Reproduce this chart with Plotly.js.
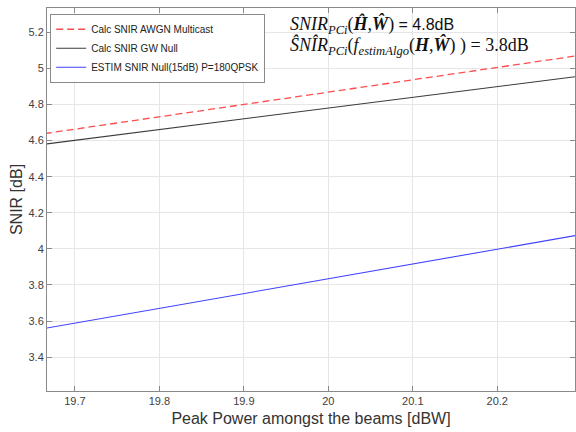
<!DOCTYPE html>
<html>
<head>
<meta charset="utf-8">
<script src="https://cdn.plot.ly/plotly-3.0.1.min.js"></script>
<style>html,body{margin:0;padding:0;background:#fff;}#chart{width:576px;height:432px;}</style>
</head>
<body>
<div id="chart"></div>
<script>
const peakPower = [19.6, 19.7, 19.8, 19.9, 20.0, 20.1, 20.2, 20.3];
const snirAwgnMulticast = [4.595, 4.664, 4.732, 4.800, 4.869, 4.937, 5.006, 5.074];
const snirGwNull = [4.542, 4.602, 4.661, 4.721, 4.780, 4.840, 4.900, 4.959];
const snirEstimNull = [3.506, 3.588, 3.670, 3.752, 3.834, 3.916, 3.998, 4.080];
const seriesNames = ['Calc SNIR AWGN Multicast', 'Calc SNIR GW Null', 'ESTIM SNIR Null(15dB) P=180QPSK'];
const xTicks = [19.7, 19.8, 19.9, 20.0, 20.1, 20.2];
const yTicks = [3.4, 3.6, 3.8, 4.0, 4.2, 4.4, 4.6, 4.8, 5.0, 5.2];

const traces = [
  {x: peakPower, y: snirAwgnMulticast, name: seriesNames[0], mode: 'lines',
   line: {color: '#ff4d4d', width: 1.3, dash: '7px,4px'}},
  {x: peakPower, y: snirGwNull, name: seriesNames[1], mode: 'lines',
   line: {color: '#3a3a3a', width: 1.1}},
  {x: peakPower, y: snirEstimNull, name: seriesNames[2], mode: 'lines',
   line: {color: '#4040ff', width: 1.1}}
];

const axisCommon = {
  showline: true, linecolor: '#8a8a8a', linewidth: 1, mirror: 'ticks',
  ticks: 'inside', ticklen: 5, tickcolor: '#8a8a8a',
  showgrid: true, gridcolor: '#e6e6e6', gridwidth: 1, zeroline: false,
  tickfont: {family: 'Liberation Sans, Arial, sans-serif', size: 11, color: '#404040'}
};

const layout = {
  width: 576, height: 432,
  margin: {l: 47, r: 1, t: 8, b: 41},
  paper_bgcolor: '#ffffff', plot_bgcolor: '#ffffff',
  showlegend: true,
  legend: {x: 0.006, y: 0.985, xanchor: 'left', yanchor: 'top',
    bgcolor: '#ffffff', bordercolor: '#8a8a8a', borderwidth: 1,
    font: {family: 'Liberation Sans, Arial, sans-serif', size: 10, color: '#222'},
    tracegroupgap: 0, itemwidth: 30},
  xaxis: Object.assign({}, axisCommon, {
    range: [19.667, 20.292], tickvals: xTicks,
    ticktext: xTicks.map(v => String(+v.toFixed(1))),
    title: {text: 'Peak Power amongst the beams [dBW]', standoff: 6,
      font: {family: 'Liberation Sans, Arial, sans-serif', size: 16, color: '#333'}}
  }),
  yaxis: Object.assign({}, axisCommon, {
    range: [3.212, 5.335], tickvals: yTicks,
    ticktext: yTicks.map(v => String(+v.toFixed(1))),
    title: {text: 'SNIR [dB]', standoff: 1,
      font: {family: 'Liberation Sans, Arial, sans-serif', size: 16, color: '#333'}}
  }),
  annotations: [
    {xref: 'paper', yref: 'paper', x: 0.456, y: 0.955, xanchor: 'left', yanchor: 'middle', showarrow: false,
     text: '<span style="font-family:Liberation Serif,serif;font-size:18px"><i>SNIR</i><sub><i>PCi</i></sub>(<b><i>H\u0302</i></b>,<b><i>W\u0302</i></b>)</span> = 4.8dB',
     font: {family: 'Liberation Sans, Arial, sans-serif', size: 16, color: '#111'}},
    {xref: 'paper', yref: 'paper', x: 0.456, y: 0.9, xanchor: 'left', yanchor: 'middle', showarrow: false,
     text: '<i>S\u0302NI\u0302R</i><sub><i>PCi</i></sub>(<i>f</i><sub><i>estimAlgo</i></sub>(<b><i>H</i></b>,<b><i>W\u0302</i></b>) ) = 3.8dB',
     font: {family: 'Liberation Serif, serif', size: 18, color: '#111'}}
  ]
};

Plotly.newPlot('chart', traces, layout, {displayModeBar: false, staticPlot: true});
</script>
</body>
</html>
